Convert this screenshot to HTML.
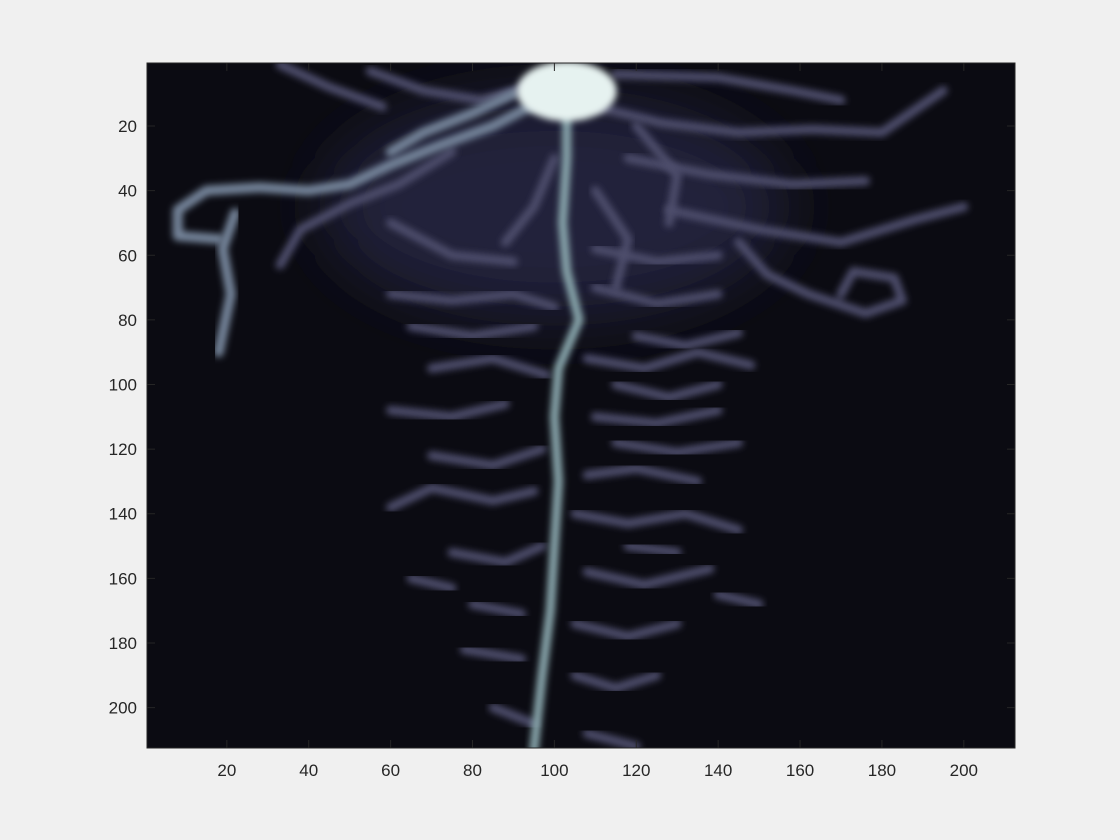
<!DOCTYPE html>
<html><head><meta charset="utf-8"><style>
html,body{margin:0;padding:0;background:#f0f0f0;}
svg{display:block;font-family:"Liberation Sans",Arial,sans-serif;}
</style></head><body>
<svg id="fig" width="1120" height="840" viewBox="0 0 1120 840">
<defs>
<clipPath id="clip"><rect x="147" y="63" width="868" height="685"/></clipPath>
<filter id="blur" x="-20%" y="-20%" width="140%" height="140%"><feGaussianBlur stdDeviation="3.5"/></filter>
<filter id="blur2" x="-50%" y="-50%" width="200%" height="200%"><feGaussianBlur stdDeviation="30"/></filter>
</defs>
<rect x="147" y="63" width="868" height="685" fill="#0b0b12"/>
<g id="img" clip-path="url(#clip)"></g>
<g id="axes"></g>
</svg>
<script>
const xTicks=[20,40,60,80,100,120,140,160,180,200];
const yTicks=[20,40,60,80,100,120,140,160,180,200];
const nCols=212, nRows=212;
const trunk=[[103,10],[103,30],[102,50],[103,65],[106,80],[101,95],[100,110],[101,130],[100,150],[99,170],[97,190],[95,213]];
const brightBranches=[
 [[97,12],[85,20],[72,26],[60,32],[50,38],[40,40],[28,39],[15,40],[8,46],[8,54],[18,55]],
 [[22,47],[19,58],[21,72],[18,90]],
 [[90,10],[80,16],[68,22],[60,28]]
];
const dimBranches=[
 [[75,28],[62,38],[50,44],[38,52],[33,63]],
 [[55,3],[68,9],[82,12],[94,8]],
 [[33,1],[45,8],[58,14]],
 [[110,14],[126,19],[145,22],[163,21],[180,22],[195,9]],
 [[115,4],[140,5],[158,9],[170,12]],
 [[118,30],[138,35],[158,38],[176,37]],
 [[128,46],[150,52],[170,56],[188,49],[200,45]],
 [[145,56],[152,66],[162,72],[176,78],[185,74],[183,67],[173,65],[170,72]],
 [[60,72],[75,74],[90,72],[100,76]],[[65,82],[80,85],[95,82]],[[110,70],[125,75],[140,72]],
 [[70,95],[85,92],[98,97]],[[108,92],[122,95],[135,90],[148,94]],[[60,108],[75,110],[88,106]],
 [[110,110],[125,112],[140,108]],[[70,122],[85,125],[97,120]],[[108,128],[120,126],[135,130]],
 [[60,138],[70,132],[85,136],[95,133]],[[105,140],[118,143],[132,140],[145,145]],
 [[75,152],[88,155],[97,150]],[[108,158],[122,162],[138,157]],[[80,168],[92,171]],
 [[105,174],[118,178],[130,174]],[[78,182],[92,185]],[[105,190],[115,194],[125,190]],
 [[85,200],[95,205]],[[108,208],[120,212]],[[88,56],[95,45],[100,30]],[[110,40],[118,55],[115,70]],
 [[120,20],[130,35],[128,50]],[[60,50],[75,60],[90,62]],[[110,58],[125,62],[140,60]],
 [[120,85],[132,88],[145,84]],[[115,100],[128,104],[140,100]],[[115,118],[130,121],[145,118]],
 [[118,150],[130,152]],[[140,165],[150,168]],[[65,160],[75,163]]
];
const soma=[103,8];
const X=c=>147+(c-0.5)*(868/nCols), Y=r=>63+(r-0.5)*(685/nRows);
const ns="http://www.w3.org/2000/svg";
const img=document.getElementById('img'), ax=document.getElementById('axes');
function path(pts,color,w,filt,name){
 const p=document.createElementNS(ns,'path');
 p.setAttribute('d',pts.map((q,i)=>(i?'L':'M')+X(q[0]).toFixed(1)+' '+Y(q[1]).toFixed(1)).join(' '));
 p.setAttribute('fill','none');p.setAttribute('stroke',color);p.setAttribute('stroke-width',w);
 p.setAttribute('stroke-linejoin','round');p.setAttribute('stroke-linecap','round');
 p.setAttribute('filter','url(#'+filt+')');
 
 
 img.appendChild(p);
}
const haze=document.createElementNS(ns,'ellipse');
haze.setAttribute('cx',X(100));haze.setAttribute('cy',Y(45));haze.setAttribute('rx',230);haze.setAttribute('ry',110);
haze.setAttribute('fill','#23233a');haze.setAttribute('filter','url(#blur2)');


img.appendChild(haze);
dimBranches.forEach(b=>path(b,'#4e4e6c',9,'blur','dendrite'));
brightBranches.forEach(b=>path(b,'#74849a',10,'blur','bright-dendrite'));
path(trunk,'#8aa8ae',9,'blur','main-trunk');
const s=document.createElementNS(ns,'ellipse');
s.setAttribute('cx',X(soma[0]));s.setAttribute('cy',Y(soma[1])+4);s.setAttribute('rx',50);s.setAttribute('ry',30);
s.setAttribute('fill','#e6f2f0');s.setAttribute('filter','url(#blur)');


img.appendChild(s);
const box=document.createElementNS(ns,'rect');
box.setAttribute('x',147);box.setAttribute('y',63);box.setAttribute('width',868);box.setAttribute('height',685);
box.setAttribute('fill','none');box.setAttribute('stroke','#262626');box.setAttribute('stroke-width',1);


ax.appendChild(box);
function line(x1,y1,x2,y2){const l=document.createElementNS(ns,'line');l.setAttribute('x1',x1);l.setAttribute('y1',y1);l.setAttribute('x2',x2);l.setAttribute('y2',y2);l.setAttribute('stroke','#262626');
 
 
 ax.appendChild(l);}
function text(x,y,s,anchor,name){const t=document.createElementNS(ns,'text');t.setAttribute('x',x);t.setAttribute('y',y);t.setAttribute('text-anchor',anchor);t.setAttribute('font-size','17');t.setAttribute('fill','#262626');t.textContent=s;
 
 
 ax.appendChild(t);}
xTicks.forEach(v=>{const x=X(v);line(x,748,x,740);line(x,63,x,71);text(x,776,String(v),'middle','x-tick-label');});
yTicks.forEach(v=>{const y=Y(v);line(147,y,155,y);line(1015,y,1007,y);text(137,y+6,String(v),'end','y-tick-label');});
</script>
</body></html>
